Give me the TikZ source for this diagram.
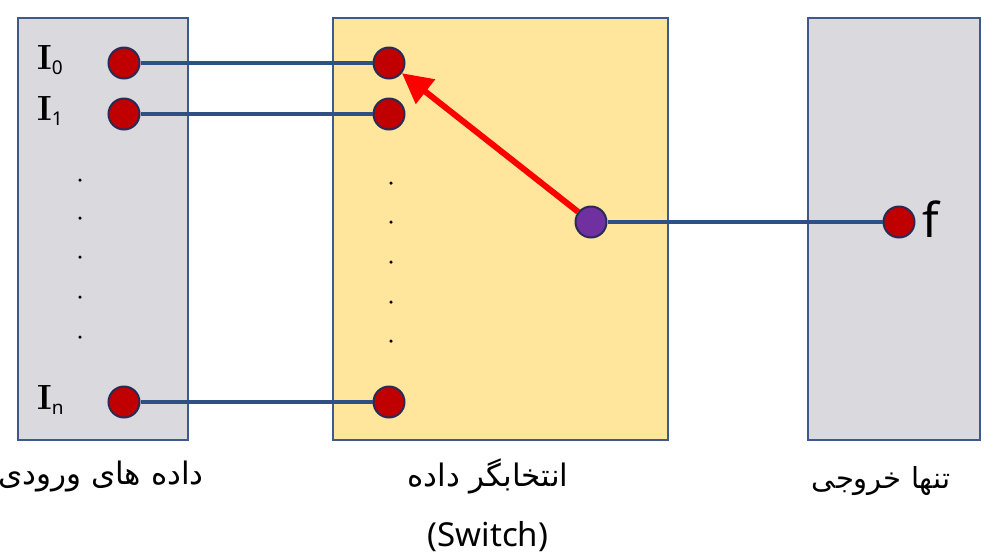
\documentclass[tikz,border=0pt]{standalone}
\usepackage{fontspec}
\setmainfont{Noto Sans}
\newfontfamily\arabicfont[Script=Arabic]{DejaVu Sans}
\newfontfamily\lmfont{Latin Modern Roman}
\TeXXeTstate=1
\usetikzlibrary{arrows.meta}
\definecolor{boxgray}{HTML}{D9D9DE}
\definecolor{boxyellow}{HTML}{FFE69C}
\definecolor{edgeblue}{HTML}{3E5A8C}
\definecolor{linkblue}{HTML}{2F5085}
\definecolor{dotred}{HTML}{C00000}
\definecolor{dotpurple}{HTML}{7030A0}
\definecolor{rimdark}{HTML}{2A2A55}
\tikzset{
  panel/.style={draw=edgeblue, line width=2pt},
  pin/.style={circle, draw=rimdark, line width=2pt, fill=dotred, minimum size=31pt, inner sep=0pt},
  hub/.style={pin, fill=dotpurple},
  link/.style={draw=linkblue, line width=3.5pt},
  dotmark/.style={circle, fill=black, minimum size=3.5pt, inner sep=0pt},
  faLabel/.style={font=\arabicfont\fontsize{31}{36}\selectfont, inner sep=0pt},
  inLabel/.style={inner sep=0pt, anchor=west}
}
\newcommand{\inname}[1]{{\lmfont\bfseries\fontsize{35}{36}\selectfont I}\raisebox{-5pt}{\fontsize{19}{20}\selectfont #1}}
\begin{document}
\begin{tikzpicture}[x=1pt,y=-1pt]
\useasboundingbox (0,0) rectangle (1007,558);
\fill[white] (0,0) rectangle (1007,558);
% panels
\filldraw[panel, fill=boxgray] (18,18) rectangle (188,440);
\filldraw[panel, fill=boxyellow] (333,18) rectangle (668,440);
\filldraw[panel, fill=boxgray] (808,18) rectangle (980,440);
% input pins
\node[pin] (i0) at (124,63) {};
\node[pin] (i1) at (124,114) {};
\node[pin] (in) at (124,402) {};
% switch pins
\node[pin] (s0) at (389,63) {};
\node[pin] (s1) at (389,114) {};
\node[pin] (sn) at (389,402) {};
\node[hub] (h) at (591,222) {};
\node[pin] (f) at (899,222) {};
% labels
\node[inLabel] (l0) at (37,60) {\inname{0}};
\node[inLabel] (l1) at (37,111) {\inname{1}};
\node[inLabel] (ln) at (37,400) {\inname{n}};
\node[inLabel] (lf) at (922,219) {\fontsize{48}{50}\selectfont f};
% vertical dots
\foreach \y [count=\k] in {180,218,257,297,337} \node[dotmark] (a\k) at (80,\y) {};
\foreach \y [count=\k] in {183,222,262,302,341} \node[dotmark] (b\k) at (391,\y) {};
% connectors
\draw[link] (i0) -- (s0);
\draw[link] (i1) -- (s1);
\draw[link] (in) -- (sn);
\draw[link] (h) -- (f);
\draw[draw=red, line width=6pt, -{Triangle[length=30pt,width=30pt]}] (h) -- (s0);
% captions
\node[faLabel] (c1) at (101,476) {\beginR داده های ورودی\endR};
\node[faLabel] (c2) at (488,476) {\beginR انتخابگر داده\endR};
\node[inner sep=0pt, font=\fontsize{33}{36}\selectfont] (c3) at (488,537) {(Switch)};
\node[faLabel, font=\arabicfont\fontsize{29}{34}\selectfont] (c4) at (881,481) {\beginR تنها خروجی\endR};
\end{tikzpicture}
\end{document}
